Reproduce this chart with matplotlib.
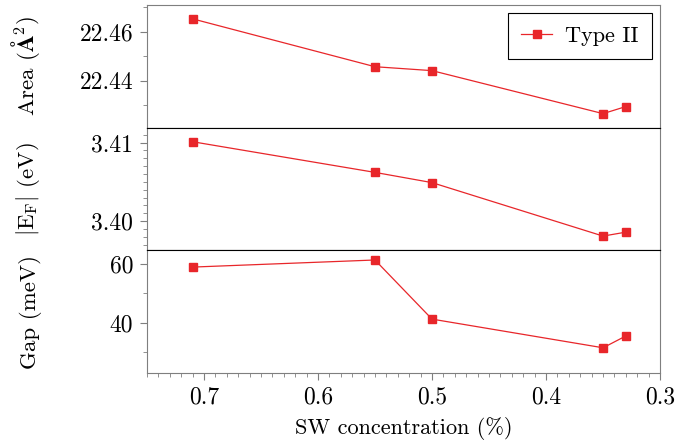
import numpy as np
import matplotlib
matplotlib.use("Agg")
import matplotlib.pyplot as plt
from matplotlib.ticker import MultipleLocator

plt.rcParams['font.family'] = 'serif'
plt.rcParams['font.serif'] = ['cmr10', 'DejaVu Serif']
plt.rcParams['mathtext.fontset'] = 'cm'
plt.rcParams['axes.formatter.use_mathtext'] = True

# data
sw_conc = [0.71, 0.55, 0.50, 0.35, 0.33]
area = [22.4653, 22.4457, 22.4441, 22.4265, 22.4294]
ef = [3.4101, 3.4062, 3.4049, 3.3981, 3.3986]
gap = [58.8, 61.2, 41.2, 31.5, 35.5]

red = '#e8262a'
gray = '#7f7f7f'

fig, axs = plt.subplots(3, 1, sharex=True, figsize=(6.77, 4.45), dpi=100)
fig.subplots_adjust(left=0.217, right=0.975, top=0.989, bottom=0.162, hspace=0)

series = [area, ef, gap]
labels = [r'Area ($\mathbf{\AA}^2$)', r'$|\mathrm{E_F}|$ (eV)', 'Gap (meV)']
ylims = [(22.4208, 22.471), (3.3963, 3.4119), (23.0, 64.5)]
majors = [0.02, 0.01, 20]
minors = [0.01, 0.001, 10]
fmts = ['%.2f', '%.2f', '%d']

for i, ax in enumerate(axs):
    ax.plot(sw_conc, series[i], '-s', color=red, lw=0.9, ms=6, label='Type II')
    ax.set_ylim(*ylims[i])
    ax.yaxis.set_major_locator(MultipleLocator(majors[i]))
    ax.yaxis.set_minor_locator(MultipleLocator(minors[i]))
    ax.yaxis.set_major_formatter(matplotlib.ticker.FormatStrFormatter(fmts[i]))
    ax.set_ylabel(labels[i], fontsize=16.5)
    ax.yaxis.set_label_coords(-0.205, 0.5)
    ax.tick_params(axis='both', which='major', labelsize=17, direction='out',
                   length=5, color=gray, left=True, right=False, top=False,
                   pad=5)
    ax.tick_params(axis='both', which='minor', direction='out',
                   length=3, color=gray, right=False, top=False)
    for s in ['left', 'right']:
        ax.spines[s].set_color(gray)
    ax.spines['top'].set_color('black' if i > 0 else gray)
    ax.spines['bottom'].set_color('black' if i < 2 else gray)
    if i < 2:
        ax.tick_params(axis='x', which='both', bottom=False)

axs[2].set_xlim(0.75, 0.3)
axs[2].xaxis.set_major_locator(MultipleLocator(0.1))
axs[2].xaxis.set_minor_locator(MultipleLocator(0.01))
axs[2].xaxis.set_major_formatter(matplotlib.ticker.FormatStrFormatter('%.1f'))
axs[2].set_xlabel('SW concentration (%)', fontsize=16, labelpad=6)

leg = axs[0].legend(loc='upper right', fontsize=16, fancybox=False,
                    edgecolor='black', framealpha=1, handlelength=1.4,
                    borderpad=0.6, borderaxespad=0.35, handletextpad=0.6)
leg.get_frame().set_linewidth(0.8)

fig.savefig('out.png', dpi=100)
